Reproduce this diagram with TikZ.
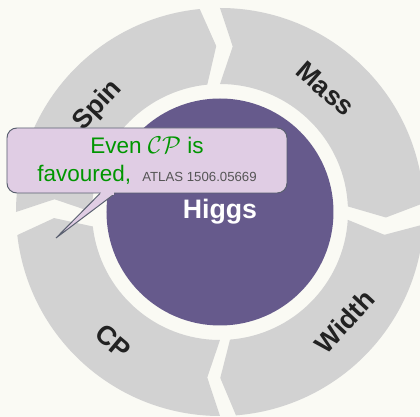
\documentclass[tikz,border=0pt]{standalone}
\usepackage{fontspec}
\setmainfont{Liberation Sans}
\usetikzlibrary{calc}

\definecolor{bgcol}{RGB}{250,250,244}
\definecolor{ringgray}{RGB}{210,210,210}
\definecolor{higgspurple}{RGB}{102,90,140}
\definecolor{notefill}{RGB}{224,205,228}
\definecolor{noteline}{RGB}{90,96,112}
\definecolor{notegreen}{RGB}{0,150,0}
\definecolor{labeltext}{RGB}{34,34,34}
\definecolor{refgray}{RGB}{85,85,85}

\begin{document}
\begin{tikzpicture}[
        hub/.style={circle, fill=higgspurple, minimum size=5.675cm, inner sep=0pt, text=white, font=\fontsize{19}{23}\selectfont\bfseries},
        seglabel/.style={text=labeltext, font=\fontsize{19}{23}\selectfont\bfseries},
        note/.style={rectangle, rounded corners=7pt, draw=noteline, fill=notefill, line width=0.7pt, minimum width=7cm, minimum height=1.625cm, inner sep=0pt, align=center, text=notegreen, font=\fontsize{16}{20}\selectfont}
    ]
        \fill[bgcol] (-5.5,-5.125) rectangle (5.0,5.3);
        \useasboundingbox (-5.5,-5.125) rectangle (5.0,5.3);

        \foreach \a/\b in {180/95.7, 90/2.5, -3.5/-85.5, -90/-173.5} {
            \fill[ringgray] (\a:5.1cm) arc[start angle=\a, end angle=\b, radius=5.1cm]
                -- (\b-4.4:4.15cm) -- (\b:3.2cm)
                arc[start angle=\b, end angle=\a, radius=3.2cm]
                -- (\a-4.4:4.15cm) -- cycle;
        }

        \node[hub] (higgs) at (0,0) {Higgs};

        \node[seglabel, rotate=47] (spin) at (139:4.05cm) {Spin};
        \node[seglabel, rotate=-41] (mass) at (49.5:4.05cm) {Mass};
        \node[seglabel, rotate=47] (width) at (-41.3:4.15cm) {Width};
        \node[seglabel, rotate=-40] (cp) at (-129.5:4.2cm) {CP};

        \node[note] (note) at (-1.825,1.2875) {Even $\mathcal{CP}$ is\\favoured,\hspace{8pt}{\fontsize{9.4}{11}\selectfont\color{refgray}ATLAS 1506.05669}};
        \coordinate (tip) at (-4.1,-0.65);
        \draw[noteline, fill=notefill, line width=0.7pt] ($(note.south)+(-1.175,0)$) -- (tip) -- ($(note.south)+(-0.8,0)$);
        \fill[notefill] ($(note.south)+(-1.16,0.03)$) rectangle ($(note.south)+(-0.815,-0.03)$);
    \end{tikzpicture}
\end{document}
